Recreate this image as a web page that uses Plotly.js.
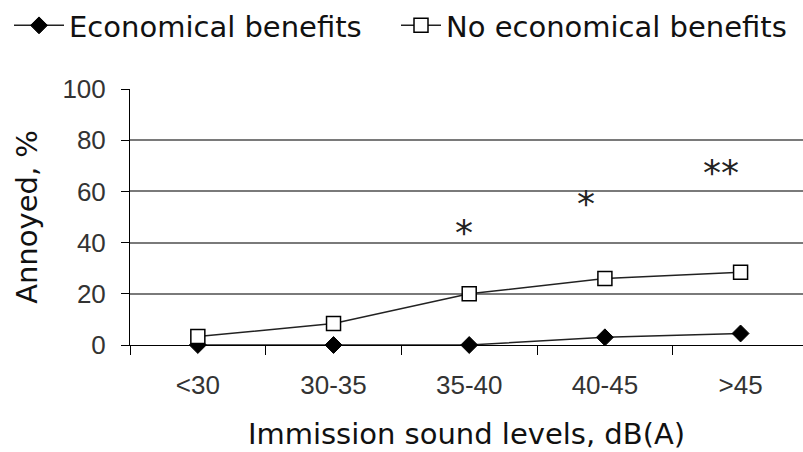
<!DOCTYPE html>
<html>
<head>
<meta charset="utf-8">
<script src="https://cdn.plot.ly/plotly-3.0.1.min.js"></script>
<style>html,body{margin:0;padding:0;background:#fff;}</style>
</head>
<body>
<div id="chart" style="width:803px;height:452px;"></div>
<script>
// ---- data ----
const categories = ['<30', '30-35', '35-40', '40-45', '>45'];
const economicalBenefits = [0, 0, 0, 3, 4.5];
const noEconomicalBenefits = [3.3, 8.4, 20, 26, 28.4];
const seriesNames = ['Economical benefits', 'No economical benefits'];
const sigCategories = ['35-40', '40-45', '>45'];
const sigLabels = ['*', '*', '**'];
const sigLevels = [45, 56.5, 68.5];
const yTickValues = [0, 20, 40, 60, 80, 100];
const xTitle = 'Immission sound levels, dB(A)';
const yTitle = 'Annoyed, %';

// ---- styles ----
const titleFont = {family: 'DejaVu Sans', size: 29, color: '#111'};
const tickFont = {family: 'Liberation Sans, Arial', size: 26, color: '#333'};
const legendFont = {family: 'DejaVu Sans', size: 29, color: '#111'};
const sigShift = [-5, -19, -20];

const traces = [
  {
    x: categories, y: economicalBenefits, name: seriesNames[0], legend: 'legend',
    type: 'scatter', mode: 'lines+markers', cliponaxis: false,
    line: {color: '#222', width: 1.5},
    marker: {symbol: 'diamond', size: 13, color: '#000', line: {color: '#000', width: 1}}
  },
  {
    x: categories, y: noEconomicalBenefits, name: seriesNames[1], legend: 'legend2',
    type: 'scatter', mode: 'lines+markers', cliponaxis: false,
    line: {color: '#222', width: 1.5},
    marker: {symbol: 'square', size: 14, color: '#fff', line: {color: '#000', width: 1.5}}
  }
];

const annotations = sigCategories.map((c, i) => ({
  x: c, y: sigLevels[i], xref: 'x', yref: 'y', text: sigLabels[i],
  showarrow: false, xshift: sigShift[i], yshift: -3,
  font: {family: 'DejaVu Sans', size: 36, color: '#222'}
}));

const legendBase = {
  orientation: 'h', xref: 'container', yref: 'container',
  y: 1, xanchor: 'left', yanchor: 'top',
  font: legendFont,
  bgcolor: 'rgba(0,0,0,0)', borderwidth: 0
};

const layout = {
  width: 803, height: 452,
  margin: {l: 130, r: 0, t: 89, b: 107, pad: 0},
  paper_bgcolor: '#fff', plot_bgcolor: '#fff',
  showlegend: true,
  legend: Object.assign({}, legendBase, {x: 9 / 803, itemwidth: 50}),
  legend2: Object.assign({}, legendBase, {x: 396 / 803, itemwidth: 40}),
  xaxis: {
    type: 'category', categoryorder: 'array', categoryarray: categories,
    range: [-0.5, 4.46], fixedrange: true,
    showline: true, linecolor: '#000', linewidth: 1,
    ticks: 'outside', tickson: 'boundaries', ticklen: 9, tickcolor: '#000', tickwidth: 1,
    showgrid: false, zeroline: false,
    tickfont: tickFont, ticklabelstandoff: 17,
    title: {text: xTitle, font: titleFont, standoff: 24}
  },
  yaxis: {
    range: [0, 100], tickvals: yTickValues, fixedrange: true,
    showline: true, linecolor: '#000', linewidth: 1,
    ticks: 'outside', ticklen: 8, tickcolor: '#000', tickwidth: 1,
    showgrid: true, gridcolor: '#7a7a7a', gridwidth: 2, zeroline: false,
    tickfont: tickFont, ticklabelstandoff: 10,
    title: {text: yTitle, font: titleFont, standoff: 16}
  },
  annotations: annotations
};

Plotly.newPlot('chart', traces, layout, {displayModeBar: false, staticPlot: true});
</script>
</body>
</html>
